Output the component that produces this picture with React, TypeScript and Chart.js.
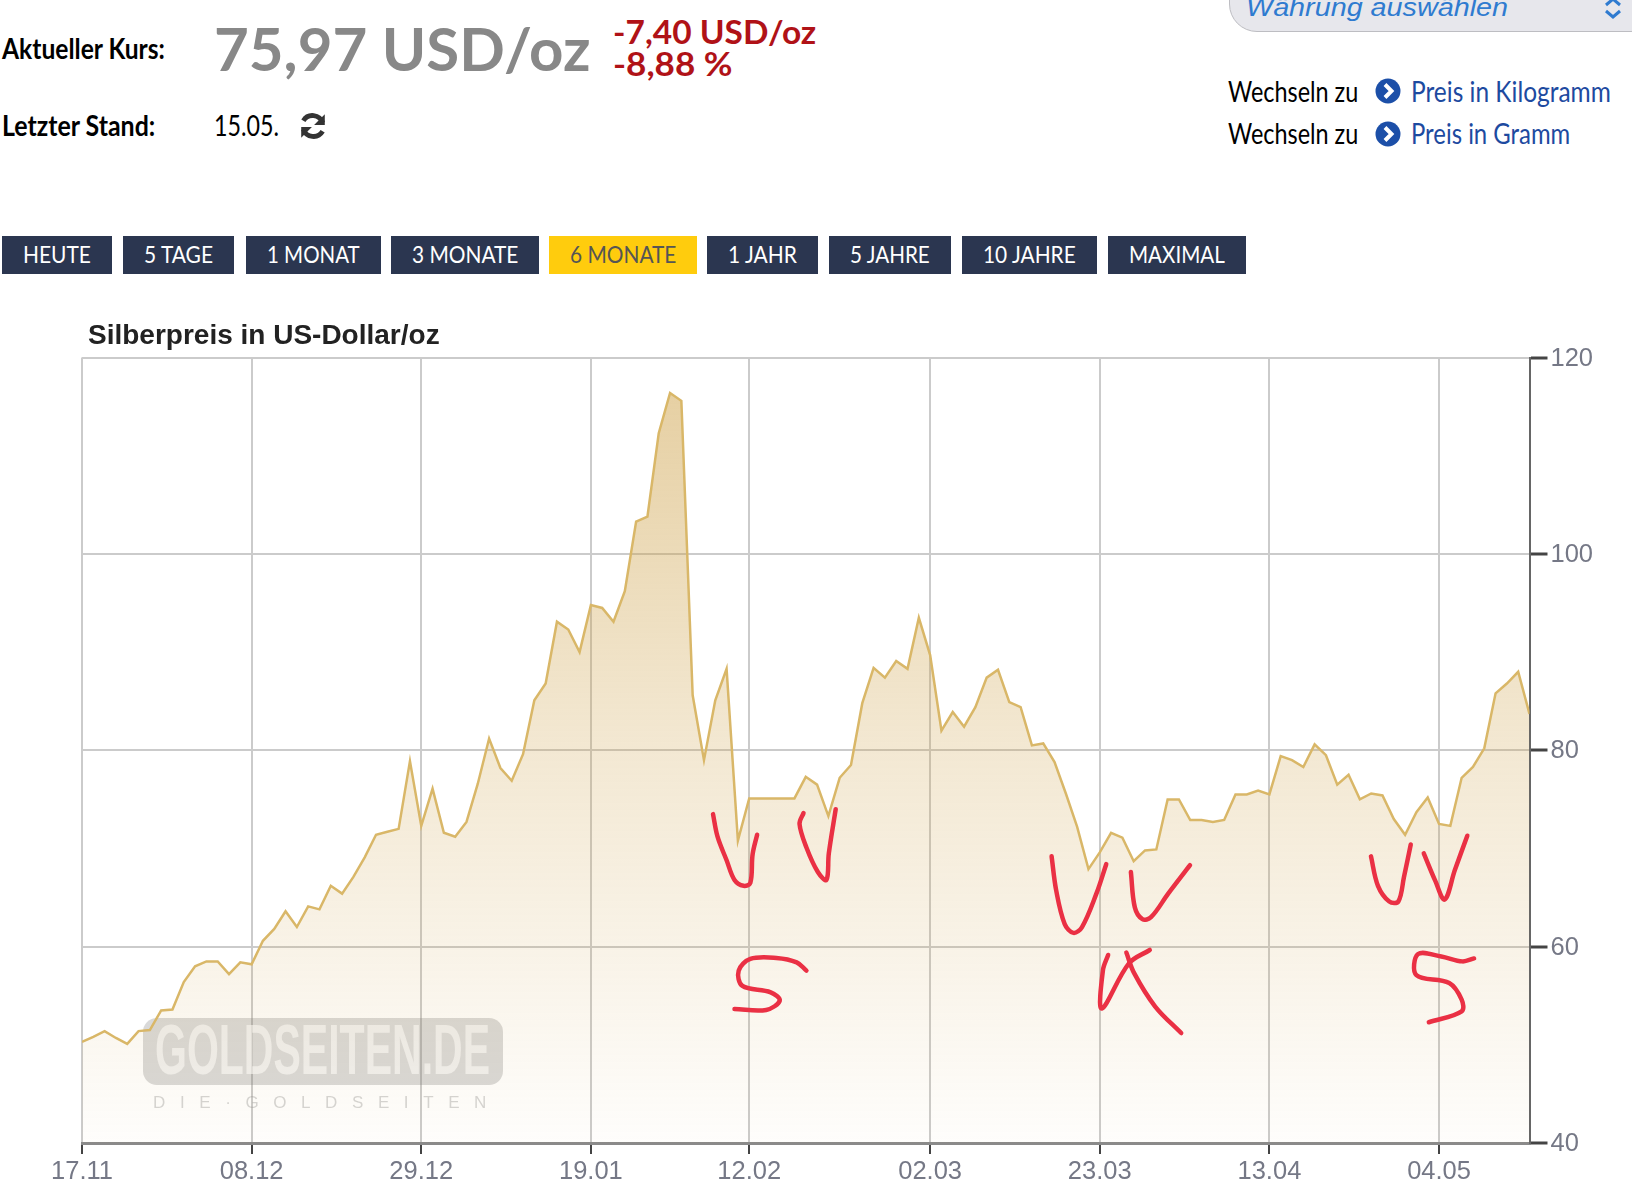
import React, { useEffect, useLayoutEffect, useRef } from "react";
import { Chart, registerables } from "chart.js";

Chart.register(...registerables);

const chartTitle = "Silberpreis in US-Dollar/oz";
const silverPrice = [
  50.3, 50.8, 51.4, 50.7, 50.1, 51.4, 51.5, 53.5, 53.6, 56.4,
  58.0, 58.5, 58.5, 57.2, 58.4, 58.2, 60.6, 61.8, 63.6, 62.0,
  64.1, 63.8, 66.2, 65.4, 67.1, 69.1, 71.4, 71.7, 72.0, 78.9,
  72.3, 76.1, 71.6, 71.2, 72.7, 76.6, 81.2, 78.2, 76.9, 79.6,
  85.1, 86.8, 93.1, 92.3, 90.0, 94.8, 94.5, 93.1, 96.2, 103.3,
  103.8, 112.3, 116.4, 115.6, 85.6, 79.0, 85.1, 88.3, 70.8, 75.1,
  75.1, 75.1, 75.1, 75.1, 77.3, 76.5, 73.3, 77.2, 78.5, 84.8,
  88.4, 87.4, 89.1, 88.3, 93.5, 89.7, 82.0, 83.9, 82.4, 84.4,
  87.4, 88.2, 84.9, 84.4, 80.5, 80.7, 78.8, 75.6, 72.2, 67.9,
  69.6, 71.6, 71.1, 68.7, 69.8, 69.9, 75.0, 75.0, 72.9, 72.9,
  72.7, 72.9, 75.5, 75.5, 75.9, 75.5, 79.4, 79.0, 78.3, 80.6,
  79.5, 76.5, 77.5, 75.0, 75.6, 75.4, 73.0, 71.4, 73.7, 75.2,
  72.5, 72.3, 77.2, 78.3, 80.2, 85.8, 86.8, 88.0, 83.7,
];
const xTickIndex = [0, 15, 30, 45, 59, 75, 90, 105, 120];
const xTickLabels = ["17.11", "08.12", "29.12", "19.01", "12.02", "02.03", "23.03", "13.04", "04.05"];
const yTicks = { min: 40, max: 120, step: 20 };

// Hand-drawn red notes over the chart, as [index, price] pairs
const noteV1 = [[55.8,73.5],[56.2,71.2],[57.0,68.8],[57.7,66.8],[58.5,66.2],[59.1,66.5],[59.3,69.4],[59.7,71.4]];
const noteV2 = [[63.8,73.6],[63.45,72.5],[64.06,70.1],[65.07,67.6],[65.83,66.8],[66.04,69.5],[66.65,74.0]];
const noteV3 = [[85.74,69.2],[86.15,65.7],[86.9,62.3],[87.67,61.4],[88.43,62.0],[89.7,65.4],[90.57,68.4]];
const noteV4 = [[92.75,67.6],[93.1,64.0],[93.77,62.8],[94.53,63.0],[96.05,65.4],[97.98,68.3]];
const noteV5 = [[113.98,69.2],[114.6,66.2],[115.6,64.6],[116.4,64.6],[116.9,67.1],[117.5,70.4]];
const noteV6 = [[118.65,69.5],[119.67,66.7],[120.5,64.8],[121.4,67.8],[122.5,71.3]];
const noteS1 = [[64.06,57.56],[63.2,58.4],[61.4,58.85],[59.1,58.75],[58.07,57.56],[58.4,56.0],[60.9,55.35],[61.7,54.5],[60.5,53.55],[57.7,53.65]];
const noteK1 = [[90.74,59.15],[90.28,57.6],[90.18,53.7],[92.58,58.3],[94.42,59.66]];
const noteK2 = [[92.35,59.4],[93.04,57.3],[94.9,53.9],[97.2,51.2]];
const noteS2 = [[123.1,58.8],[122.07,58.5],[120.2,59.0],[118.15,59.25],[118.0,57.1],[120.9,56.3],[122.0,54.6],[122.0,53.4],[119.1,52.3]];
const allNotes = [noteV1, noteV2, noteV3, noteV4, noteV5, noteV6, noteS1, noteK1, noteK2, noteS2];

const rangeButtons = [
  { label: "HEUTE", x: 2, r: 112 },
  { label: "5 TAGE", x: 123, r: 234 },
  { label: "1 MONAT", x: 246, r: 381 },
  { label: "3 MONATE", x: 391, r: 539 },
  { label: "6 MONATE", x: 549, r: 697, active: true },
  { label: "1 JAHR", x: 707, r: 818 },
  { label: "5 JAHRE", x: 829, r: 951 },
  { label: "10 JAHRE", x: 962, r: 1097 },
  { label: "MAXIMAL", x: 1108, r: 1246 },
];

const UI = "Lato, 'Noto Sans', sans-serif";

function Fit({ x, y, w, size, weight = 400, color = "#000", font = UI, italic = false, children }: any) {
  const ref = useRef<HTMLSpanElement>(null);
  useLayoutEffect(() => {
    const el = ref.current!;
    el.style.transform = "translateY(-50%)";
    const k = w / el.offsetWidth;
    el.style.transform = `translateY(-50%) scaleX(${k})`;
  }, [w]);
  return (
    <span
      ref={ref}
      style={{
        position: "absolute", left: x, top: y, fontFamily: font, fontSize: size, fontWeight: weight,
        fontStyle: italic ? "italic" : "normal", color, lineHeight: 1, whiteSpace: "nowrap",
        transformOrigin: "left center", display: "inline-block",
      }}
    >
      {children}
    </span>
  );
}

const watermark = {
  id: "watermark",
  beforeDraw(chart: any) {
    if (chart.titleBlock) chart.titleBlock.left = 88;
  },
  beforeDatasetsDraw(chart: any) {
    const c = chart.ctx;
    const top = 718, x = 143, w = 360, h = 67;
    c.save();
    c.fillStyle = "rgba(130,130,130,0.3)";
    c.beginPath();
    c.roundRect(x, top, w, h, 14);
    c.fill();
    c.font = "700 70px 'Liberation Sans'";
    c.textBaseline = "middle";
    c.fillStyle = "rgba(255,255,255,0.6)";
    const t = "GOLDSEITEN.DE";
    const k = 335 / c.measureText(t).width;
    c.translate(155, top + h / 2 + 3);
    c.scale(k, 1);
    c.fillText(t, 0, 0);
    c.restore();
    c.save();
    c.font = "400 17px 'Liberation Sans'";
    c.textBaseline = "middle";
    c.fillStyle = "rgba(150,150,150,0.4)";
    (c as any).letterSpacing = "14.6px";
    c.fillText("DIE·GOLDSEITEN", 153, 803);
    c.restore();
  },
};

function PriceChart() {
  const ref = useRef<HTMLCanvasElement>(null);
  useEffect(() => {
    const gridColor = "#cbcbcb";
    const axisFont = { family: "'Liberation Sans'", size: 25.5 };
    const chart = new Chart(ref.current!, {
      type: "line",
      data: {
        datasets: [
          ...allNotes.map((n) => ({
            data: n.map(([x, y]) => ({ x, y })),
            borderColor: "#ea3044",
            borderWidth: 4.5,
            pointRadius: 0,
            fill: false,
            tension: 0.35,
            borderCapStyle: "round",
            borderJoinStyle: "round",
            order: 0,
          })),
          {
            data: silverPrice.map((y, x) => ({ x, y })),
            borderColor: "#d9b768",
            borderWidth: 2.5,
            pointRadius: 0,
            tension: 0,
            fill: "start",
            order: 1,
            backgroundColor: (ctx: any) => {
              const a = ctx.chart.chartArea;
              if (!a) return "rgba(205,160,70,0.3)";
              const g = ctx.chart.ctx.createLinearGradient(0, a.top, 0, a.bottom);
              g.addColorStop(0, "rgba(205,160,70,0.52)");
              g.addColorStop(0.5, "rgba(205,160,70,0.24)");
              g.addColorStop(1, "rgba(205,160,70,0.02)");
              return g;
            },
          },
        ],
      },
      options: {
        animation: false,
        responsive: false,
        devicePixelRatio: 1,
        layout: { padding: { left: 82, top: 19, right: 0, bottom: 0 } },
        plugins: {
          legend: { display: false },
          tooltip: { enabled: false },
          title: {
            display: true,
            text: chartTitle,
            align: "start",
            color: "#222",
            font: { family: "'Liberation Sans'", weight: "bold", size: 28 },
            padding: { top: 0, bottom: 5 },
          },
        },
        scales: {
          x: {
            type: "linear",
            min: 0,
            max: silverPrice.length - 1,
            afterBuildTicks: (axis: any) => {
              axis.ticks = xTickIndex.map((value) => ({ value }));
            },
            afterFit: (axis: any) => { axis.height = 57; },
            grid: { color: gridColor, lineWidth: 2, tickColor: "#444", tickLength: 11, tickWidth: 2 },
            border: { color: "#8a8a8a", width: 3 },
            ticks: {
              autoSkip: false,
              maxRotation: 0,
              color: "#757886",
              font: axisFont,
              padding: 3,
              callback: (v: any) => xTickLabels[xTickIndex.indexOf(v)] ?? "",
            },
          },
          y: {
            position: "right",
            min: yTicks.min,
            max: yTicks.max,
            afterFit: (axis: any) => { axis.width = 102.5; },
            grid: { color: gridColor, lineWidth: 2, tickColor: "#444", tickLength: 18, tickWidth: 3 },
            border: { color: "#666", width: 2 },
            ticks: { stepSize: yTicks.step, color: "#757886", font: axisFont, padding: 3, labelOffset: 1 },
          },
        },
      },
      plugins: [watermark],
    } as any);
    return () => chart.destroy();
  }, []);
  return <canvas ref={ref} width={1632} height={900} style={{ position: "absolute", left: 0, top: 300 }} />;
}

function Arrow({ y }: { y: number }) {
  return (
    <svg width="26" height="26" viewBox="0 0 26 26" style={{ position: "absolute", left: 1375, top: y - 13 }}>
      <circle cx="13" cy="13" r="12.5" fill="#1c4fa8" />
      <path d="M10 6.5 L16.5 13 L10 19.5" fill="none" stroke="#fff" strokeWidth="4" />
    </svg>
  );
}

export default function App() {
  useEffect(() => {
    document.body.style.margin = "0";
    document.body.style.background = "#fff";
  }, []);
  return (
    <div style={{ position: "relative", width: 1632, height: 1200, overflow: "hidden", background: "#fff" }}>
      <PriceChart />
      <Fit x={2} y={47} w={163} size={29} weight={700}>Aktueller Kurs:</Fit>
      <Fit x={214} y={48} w={377} size={60} weight={700} color="#888888">75,97 USD/oz</Fit>
      <Fit x={613} y={31} w={203} size={33} weight={700} color="#b01217">-7,40 USD/oz</Fit>
      <Fit x={613} y={63} w={120} size={33} weight={700} color="#b01217">-8,88 %</Fit>
      <Fit x={2} y={124} w={153} size={29} weight={700}>Letzter Stand:</Fit>
      <Fit x={214} y={124} w={65} size={29} weight={400}>15.05.</Fit>
      <svg width="30" height="28" viewBox="0 0 28 26" style={{ position: "absolute", left: 298, top: 112 }}>
        <path d="M23 10 A10 10 0 0 0 5 8" fill="none" stroke="#333" strokeWidth="4.5" />
        <path d="M5 16 A10 10 0 0 0 23 18" fill="none" stroke="#333" strokeWidth="4.5" />
        <path d="M25 2 V12 H15 Z M3 24 V14 H13 Z" fill="#333" />
      </svg>

      <div style={{ position: "absolute", left: 1229, top: -30, width: 430, height: 62, borderRadius: 28, background: "#e7e7ec", border: "1.5px solid #bdbdc2", boxSizing: "border-box" }} />
      <Fit x={1246} y={7} w={262} size={26} italic font="'Liberation Sans'" color="#2f7bd0">Währung auswählen</Fit>
      <svg width="20" height="26" viewBox="0 0 20 26" style={{ position: "absolute", left: 1603, top: -3 }}>
        <path d="M3 8 L10 2 L17 8 M3 14 L10 20 L17 14" fill="none" stroke="#2f7bd0" strokeWidth="3" />
      </svg>

      <Fit x={1228} y={90} w={130} size={29}>Wechseln zu</Fit>
      <Fit x={1228} y={132} w={130} size={29}>Wechseln zu</Fit>
      <Arrow y={91} />
      <Arrow y={134} />
      <Fit x={1411} y={90} w={200} size={29} color="#1d4aa0">Preis in Kilogramm</Fit>
      <Fit x={1411} y={132} w={159} size={29} color="#1d4aa0">Preis in Gramm</Fit>

      {rangeButtons.map((b) => (
        <React.Fragment key={b.label}>
          <div style={{ position: "absolute", left: b.x, top: 236, width: b.r - b.x, height: 38, background: b.active ? "#ffcc0d" : "#2b3650" }} />
          <Fit x={b.x + 21} y={254} w={b.r - b.x - 42} size={24} color={b.active ? "#555" : "#fff"}>{b.label}</Fit>
        </React.Fragment>
      ))}
    </div>
  );
}
